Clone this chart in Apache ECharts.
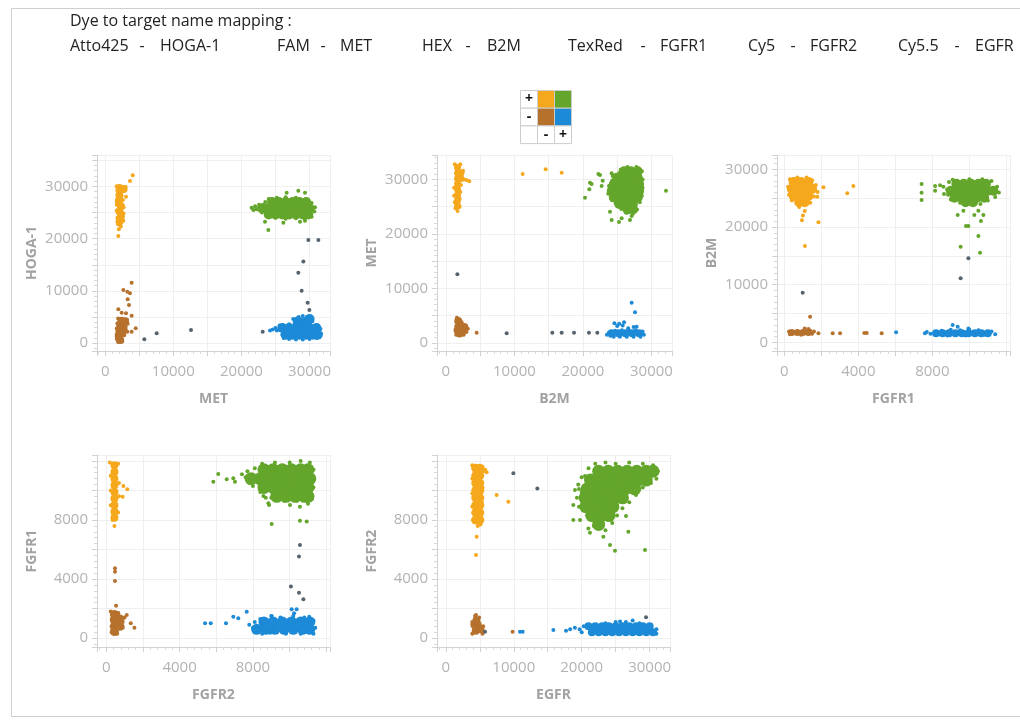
<!DOCTYPE html>
<html>
<head>
<meta charset="utf-8">
<script src="https://cdn.jsdelivr.net/npm/echarts@6/dist/echarts.min.js"></script>
<style>
  html, body { margin: 0; padding: 0; background: #ffffff; }
  #chart { width: 1020px; height: 721px; }
</style>
</head>
<body>
<div id="chart"></div>
<script>
// ---- Dye / target names -------------------------------------------------
const dyeNames    = ['Atto425', 'FAM', 'HEX', 'TexRed', 'Cy5', 'Cy5.5'];
const targetNames = ['HOGA-1', 'MET', 'B2M', 'FGFR1', 'FGFR2', 'EGFR'];

// x / y target of each 2-D plot
const xTargets = ['MET', 'B2M', 'FGFR1', 'FGFR2', 'EGFR'];
const yTargets = ['HOGA-1', 'MET', 'B2M', 'FGFR1', 'FGFR2'];

// labelled ticks of each plot
const xTickLabels = [[0, 10000, 20000, 30000], [0, 10000, 20000, 30000], [0, 4000, 8000], [0, 4000, 8000], [0, 10000, 20000, 30000]];
const yTickLabels = [[0, 10000, 20000, 30000], [0, 10000, 20000, 30000], [0, 10000, 20000, 30000], [0, 4000, 8000], [0, 4000, 8000]];

// ---- Plot 1 : MET (x) vs HOGA-1 (y) ------------------------------------
const p1OrangeCore = [[2100,29700],[2700,29500],[2100,28300],[2000,27200],[2300,26200],[2100,25200],[2300,24300],[2100,23300]];
const p1OrangeSpread = [[1700,30000],[3000,29900],[2900,29200],[1800,29100],[1800,27600],[2600,27400],[1700,26500],[2700,26000],[1700,25400],[2700,24800],[1800,24000],[2500,23600],[1900,22700],[2300,22300],[2000,21800],[4040,32110],[3640,31020],[3060,28030],[2670,23430],[1930,20500]];
const p1GreenCore = [[24500,27000],[25500,27000],[26500,27000],[27500,27000],[28500,27000],[29500,27000],
  [23000,25800],[24000,25800],[25000,25800],[26000,25800],[27000,25800],[28000,25800],[29000,25800],[30000,25800],
  [24000,24600],[25000,24600],[26000,24600],[27000,24600],[28000,24600],[29000,24600],[29800,24600]];
const p1GreenSpread = [[21500,25900],[22000,26200],[22200,25600],[22600,26500],[23000,25000],[23500,27000],[24000,27600],[25200,27800],[26500,27900],[28000,27800],[29500,27500],[30300,26800],[30800,26000],[30700,25200],[30300,24200],[29300,23800],[28000,23900],[26500,23800],[25000,24000],[23800,24300],[23300,26500],
  [26640,28790],[28350,29170],[29330,28790],[23950,21650],[23460,23240],[26150,23050],[29330,23430],[28600,23240],[21750,25470]];
const p1BrownCore = [[2400,4300],[2900,4200],[2200,3300],[2700,3100],[2100,2300],[2500,2100],[2000,1300],[2200,600]];
const p1BrownSpread = [[1900,4700],[3200,4500],[3300,3700],[1800,3800],[1700,2800],[3000,2600],[1700,1700],[2800,1500],[1700,800],[2500,300],[1900,200],
  [3890,11570],[2670,10170],[3250,9850],[3640,9530],[3300,8380],[3500,7300],[1930,6470],[2420,5830],[3890,5260],[3060,5710],[4480,2840],[3890,2200],[3250,2200]];
const p1BlueCore = [[26000,2900],[27000,2900],[28000,2900],[29000,2900],[30000,2900],[31000,2900],
  [26500,1600],[27500,1600],[28500,1600],[29500,1600],[30500,1600],[31200,1600],[28300,4200],[29300,4000],[30000,4600]];
const p1BlueSpread = [[25000,2900],[25200,2400],[25600,3400],[26000,1600],[26200,1000],[27000,800],[28000,700],[29000,700],[30000,800],[31000,1000],[31700,1800],[31600,2700],[31200,3400],[27000,3600],[27800,3900],[28400,5000],[29000,5200],[29600,5000],[30400,4200],[27600,4600],[24600,2600],[24200,2400]];
const p1Rain = [[29820,19740],[31290,19740],[29090,15600],[28350,13490],[28840,10050],[29720,7750],[29970,6350],[23120,2200],[5750,740],[7560,1880],[12600,2520]];

// ---- Plot 2 : B2M (x) vs MET (y) ---------------------------------------
const p2OrangeCore = [[1700,32200],[1700,31200],[1700,30200],[1700,29200],[1700,28200],[1700,27200],[1700,26200],[1700,25200],[2200,31200],[2200,30200]];
const p2OrangeSpread = [[1300,32800],[2100,32800],[2500,31600],[2600,30000],[3000,29900],[3400,29700],[2200,29000],[1200,28500],[2100,27700],[1200,27000],[2000,26500],[1300,25800],[2000,25000],[1400,24700],[1700,24200],
  [11200,31010],[14560,31870],[16900,31260]];
const p2GreenCore = [[26000,31500],[27000,31500],[28000,31500],
  [25000,30300],[26000,30300],[27000,30300],[28000,30300],
  [24500,29100],[25500,29100],[26500,29100],[27500,29100],[28200,29100],
  [24200,27900],[25200,27900],[26200,27900],[27200,27900],[28200,27900],
  [24500,26700],[25500,26700],[26500,26700],[27500,26700],[28000,26700],
  [25300,25500],[26300,25500],[27300,25500],[26500,24500],[27300,24500]];
const p2GreenSpread = [[25500,31800],[26500,32300],[27800,32300],[28600,31500],[28700,30000],[28700,28500],[28600,27000],[28300,25800],[27900,24500],[27300,23700],[26300,23900],[25600,24600],[24800,25600],[24200,26300],[23700,27400],[23800,28800],[24300,29800],[24800,30800],[25300,31200],
  [22250,31010],[22490,30830],[24190,31140],[24340,30650],[21030,29420],[21270,29180],[20930,28200],[22880,29790],[20300,26670],[22730,28810],[23950,24090],[24190,22560],[25650,22870],[25260,22200],[26870,22560],[27110,23300],[32120,27950]];
const p2BrownCore = [[1800,4000],[2000,3100],[2700,2900],[1700,2300],[2400,2200],[2000,1700]];
const p2BrownSpread = [[1600,4600],[2300,3800],[3200,2600],[3000,2000],[1500,1500],[2600,1500],[1500,3100],[4490,1870]];
const p2BlueCore = [[24200,1750],[25200,1750],[26200,1750],[27200,1750],[28200,1750]];
const p2BlueSpread = [[23500,1500],[23800,1900],[24000,1300],[24700,2200],[25700,2300],[26700,2300],[27700,2300],[28700,2100],[28900,1500],[28400,1100],[27400,1100],[26400,1100],[25400,1100],[24500,1100],
  [24600,3600],[25000,3100],[25300,3500],[25800,3200],[26000,3800],[26600,2700],[27400,2900],[27110,7380],[27600,5600],[27840,2970]];
const p2Rain = [[15530,1870],[16900,1870],[18700,1870],[20880,1870],[22100,1870],[8870,1750],[1670,12580]];

// ---- Plot 3 : FGFR1 (x) vs B2M (y) -------------------------------------
const p3OrangeCore = [[500,27800],[900,27800],[1300,27800],[400,26600],[800,26600],[1200,26600],[1500,26600],[500,25400],[900,25400],[1300,25400],[800,24300],[1100,24300]];
const p3OrangeSpread = [[300,28300],[700,28600],[1200,28600],[1500,28100],[1700,27300],[200,27000],[1800,26100],[1600,25300],[250,25600],[400,24600],[1400,24200],[800,23500],[1100,22800],[1000,22000],[950,21200],
  [1840,20840],[1110,16710],[2110,26890],[3400,25850],[3730,27120],[1780,25270]];
const p3GreenCore = [[9300,27500],[9700,27500],[10100,27500],[10500,27500],[10900,27500],
  [9000,26300],[9400,26300],[9800,26300],[10200,26300],[10600,26300],[11000,26300],[11300,26300],
  [9200,25100],[9600,25100],[10000,25100],[10400,25100],[10800,25100],[9800,24300],[10200,24300]];
const p3GreenSpread = [[8900,27800],[9100,28200],[10000,28300],[10700,28300],[11200,28000],[11500,27000],[11600,26000],[11400,25200],[11000,24600],[10600,24000],[9500,24200],[9000,24800],[8800,26500],[8850,25600],
  [7420,27470],[7420,25960],[7420,24690],[8150,27120],[8420,27240],[8600,27000],[8150,26310],[8630,25730],[9370,22090],[9680,22840],[10270,22090],[10490,22840],[10630,21050],[9820,20180],[9950,20180],[10760,22090],[10490,18450],[10580,15560],[9530,16600]];
const p3BrownCore = [[400,1700],[700,1700],[1000,1700],[1300,1700]];
const p3BrownSpread = [[250,1900],[300,1400],[1500,1500],[1100,2400],[1300,2300],[1400,2000],[900,1300],[1600,1900],[1390,4460],[1840,1560],[2610,1560],[3010,1560],[4320,1620],[4450,1620],[5260,1560]];
const p3BlueCore = [[8200,1600],[8550,1600],[8900,1600],[9250,1600],[9600,1600],[9950,1600],[10300,1600],[10650,1600],[11000,1600]];
const p3BlueSpread = [[7700,1800],[7900,1500],[8500,2000],[9000,2200],[9500,2100],[10000,2200],[10500,2100],[11200,1900],[11400,1400],[8800,1200],[9800,1200],[10800,1300],[9100,3000],[9370,2720],[9950,2400],[6040,1740],[7600,1600]];
const p3Rain = [[9950,14570],[9530,11100],[990,8620]];

// ---- Plot 4 : FGFR2 (x) vs FGFR1 (y) -----------------------------------
const p4OrangeCore = [[450,11700],[450,11250],[450,10800],[450,10350],[450,9900],[450,9450],[450,9000],[450,8550],[450,8150]];
const p4OrangeSpread = [[200,11900],[650,11800],[250,11000],[700,10500],[250,10000],[700,9600],[250,9000],[650,8500],[350,8000],[450,7600],[940,10300],[1150,10080],[900,9580]];
const p4GreenCore = [[8600,11400],[9100,11400],[9600,11400],[10100,11400],[10600,11400],[11000,11400],
  [7900,10800],[8400,10800],[8900,10800],[9400,10800],[9900,10800],[10400,10800],[10900,10800],[11100,10800],
  [8600,10200],[9100,10200],[9600,10200],[10100,10200],[10600,10200],[11000,10200],
  [9300,9600],[9800,9600],[10300,9600],[10800,9600],[11000,9600]];
const p4GreenSpread = [[7400,11100],[7600,10900],[7700,11300],[8100,11500],[8500,11800],[9200,11900],[10000,11900],[10600,12000],[11100,11900],[11300,11400],[11300,10200],[11200,9400],[11000,9100],[10400,9300],[9700,9300],[9000,9500],[8400,9900],[8000,10300],[8300,10500],[8700,9500],
  [6110,11110],[5840,10590],[6570,10750],[6930,10820],[7020,10590],[8840,9130],[8880,9010],[9020,7730],[10560,7950],[10930,7890],[8570,9620],[9290,9690],[10020,9010],[10560,8900],[10240,9350]];
const p4BrownCore = [[450,1600],[450,1200],[450,800],[450,450],[750,1300],[750,800]];
const p4BrownSpread = [[250,1800],[300,1300],[300,800],[300,400],[600,300],[900,1100],[900,700],[1000,1400],[650,1700],[480,4730],[480,4500],[480,3870],[540,2200],[660,1680],[1120,1570],[1340,1000],[1540,710]];
const p4BlueCore = [[8600,1100],[9100,1100],[9600,1100],[10100,1100],[10600,1100],[11100,1100],
  [8200,600],[8700,600],[9200,600],[9700,600],[10200,600],[10700,600],[11100,600]];
const p4BlueSpread = [[7800,900],[8000,700],[8100,1100],[8400,1300],[9000,1500],[9500,1400],[10200,1500],[10800,1400],[11300,1200],[11400,700],[11300,300],[10600,300],[9800,300],[9000,400],[8500,300],[8930,370],
  [7660,1790],[7200,1340],[6930,1450],[5390,1000],[5700,1000],[6530,1000],[9020,1500],[10110,1950],[10240,1680],[10380,1950],[11070,1450]];
const p4Rain = [[10560,6310],[10510,5520],[10070,3490],[10510,3080],[10750,2630]];

// ---- Plot 5 : EGFR (x) vs FGFR2 (y) ------------------------------------
const p5OrangeCore = [[4400,11500],[4400,11000],[4400,10500],[4400,10000],[4400,9500],[4400,9000],[4400,8500],[4400,8000],
  [5000,11500],[5000,11000],[5000,10500],[5000,10000],[5000,9500],[5000,9000],[5000,8500],[5000,8000]];
const p5OrangeSpread = [[3900,11700],[5400,11600],[5600,11300],[5800,11400],[3900,10800],[5400,10200],[3900,9800],[5300,9200],[3900,8900],[5200,8300],[4000,8000],[4700,7600],[5100,7700],
  [6010,11230],[7480,9690],[9200,9240],[4540,6870],[4440,5630]];
const p5GreenCore = [[22500,11300],[23900,11300],[25300,11300],[26700,11300],[28100,11300],[29500,11300],[30500,11300],
  [21300,10700],[22700,10700],[24100,10700],[25500,10700],[26900,10700],[28300,10700],[29500,10700],
  [20800,10100],[22200,10100],[23600,10100],[25000,10100],[26400,10100],[27800,10100],
  [20500,9500],[21900,9500],[23300,9500],[24700,9500],[26000,9500],
  [20600,8900],[22000,8900],[23400,8900],[24600,8900],
  [21500,8300],[22800,8300],[24000,8300],[22500,7700]];
const p5GreenSpread = [[19500,10400],[20000,10900],[21000,11500],[22000,11800],[23500,11900],[25000,11800],[27000,11900],[29000,11800],[30500,11700],[31200,11300],[31000,10800],[30200,10500],[29000,10200],[28000,9700],[27000,9200],[26000,8800],[25200,8300],[24500,7800],[23500,7300],[21800,7600],[20800,8300],[19600,8900],[19300,9500],[20000,9900],[19600,10100],
  [18770,8000],[19750,8000],[20980,7430],[21220,7140],[23190,6870],[24170,6310],[24900,5920],[26870,7210],[26520,8270],[29320,5970],[20490,10980],[19010,10030],[18770,9010]];
const p5BrownCore = [[4200,900],[4700,900],[4400,500],[5100,600],[4500,1200]];
const p5BrownSpread = [[3900,300],[3900,1100],[5400,300],[5500,800],[4900,1400],[4300,1500],[4440,1570],[9830,440]];
const p5BlueCore = [[21000,800],[22000,800],[23000,800],[24000,800],[25000,800],[26000,800],[27000,800],[28000,800],[29000,800],[30000,800],
  [21500,400],[22500,400],[23500,400],[24500,400],[25500,400],[26500,400],[27500,400],[28500,400],[29500,400],[30500,400]];
const p5BlueSpread = [[17700,500],[18300,600],[19000,700],[19700,600],[20300,800],[20000,400],[25000,1100],[26500,1100],[27500,1200],[28500,1000],[31000,600],[31000,300],[23500,1000],[25640,1120],[10920,440],[11310,440],[15830,550]];
const p5Rain = [[9940,11160],[13470,10140],[29470,1410],[5770,440]];

// ---- Drawing --------------------------------------------------------------
const ORANGE = '#f5a81c', GREEN = '#63a62b', BROWN = '#b6712d', BLUE = '#1c8ad6', RAIN = '#56626d';
const FONT = "'Open Sans', 'Noto Sans', sans-serif";

// plot frames in pixels: [left, top, width, height]
const frames = [[97,155,233,196],[437,155,235,196],[777,155,233,196],[97,455,233,192],[437,455,233,192]];
const xExtent = [[-1200,33000],[-1300,33000],[-400,12200],[-500,12200],[-1300,33000]];
const yExtent = [[-1500,36000],[-1500,34500],[-1500,32500],[-600,12400],[-600,12400]];
const xSplit = [7, 7, 6, 6, 7];
const ySplit = [7, 7, 7, 6, 6];

// each plot: clusters as [core, spread, colour, core symbol size], then the rain
const plots = [
  [[p1OrangeCore,p1OrangeSpread,ORANGE,8],[p1GreenCore,p1GreenSpread,GREEN,10],[p1BrownCore,p1BrownSpread,BROWN,8],[p1BlueCore,p1BlueSpread,BLUE,10],p1Rain],
  [[p2OrangeCore,p2OrangeSpread,ORANGE,7],[p2GreenCore,p2GreenSpread,GREEN,10],[p2BrownCore,p2BrownSpread,BROWN,8],[p2BlueCore,p2BlueSpread,BLUE,8],p2Rain],
  [[p3OrangeCore,p3OrangeSpread,ORANGE,10],[p3GreenCore,p3GreenSpread,GREEN,10],[p3BrownCore,p3BrownSpread,BROWN,7],[p3BlueCore,p3BlueSpread,BLUE,8],p3Rain],
  [[p4OrangeCore,p4OrangeSpread,ORANGE,8],[p4GreenCore,p4GreenSpread,GREEN,13],[p4BrownCore,p4BrownSpread,BROWN,9],[p4BlueCore,p4BlueSpread,BLUE,11],p4Rain],
  [[p5OrangeCore,p5OrangeSpread,ORANGE,9],[p5GreenCore,p5GreenSpread,GREEN,13],[p5BrownCore,p5BrownSpread,BROWN,8],[p5BlueCore,p5BlueSpread,BLUE,8],p5Rain]
];

function labelFormatter(list) {
  return function (v) {
    return list.some(function (l) { return Math.abs(l - v) < 1e-6; }) ? String(v) : '';
  };
}

function valueAxis(extent, split, labels, name, isY) {
  return {
    type: 'value',
    min: extent[0], max: extent[1],
    splitNumber: split,
    name: name,
    nameLocation: 'middle',
    nameGap: isY ? 58 : 41,
    nameTextStyle: { color: '#a2a2a2', fontSize: 14, fontWeight: 'bold', fontFamily: FONT },
    axisLine: { show: true, onZero: false, lineStyle: { color: '#d2d2d2', width: 1 } },
    axisTick: { show: true, length: 5, lineStyle: { color: '#d2d2d2' } },
    minorTick: { show: true, splitNumber: 5, length: 3, lineStyle: { color: '#d8d8d8' } },
    splitLine: { show: true, lineStyle: { color: '#efefef', width: 1 } },
    axisLabel: { color: '#b3b3b3', fontSize: 15, fontFamily: FONT, margin: isY ? 9 : 13, formatter: labelFormatter(labels) }
  };
}

const grids = [], xAxes = [], yAxes = [], series = [];
frames.forEach(function (f, i) {
  grids.push({ left: f[0], top: f[1], width: f[2], height: f[3], containLabel: false });
  xAxes.push(Object.assign({ gridIndex: i }, valueAxis(xExtent[i], xSplit[i], xTickLabels[i], xTargets[i], false)));
  yAxes.push(Object.assign({ gridIndex: i }, valueAxis(yExtent[i], ySplit[i], yTickLabels[i], yTargets[i], true)));
  const p = plots[i];
  for (let c = 0; c < 4; c++) {
    const cl = p[c];
    series.push({ type: 'scatter', xAxisIndex: i, yAxisIndex: i, data: cl[0], symbolSize: cl[3], silent: true, itemStyle: { color: cl[2], opacity: 1 } });
    series.push({ type: 'scatter', xAxisIndex: i, yAxisIndex: i, data: cl[1], symbolSize: 4, silent: true, itemStyle: { color: cl[2], opacity: 1 } });
  }
  series.push({ type: 'scatter', xAxisIndex: i, yAxisIndex: i, data: p[4], symbolSize: 4, silent: true, itemStyle: { color: RAIN, opacity: 1 } });
});

// header: dye to target mapping
const headerX = [[70,142,160],[277,323,340],[422,468,487],[568,643,660],[748,793,810],[898,957,975]];
const headerText = { fill: '#222222', fontSize: 16, fontFamily: FONT, verticalAlign: 'middle' };
const graphics = [
  { type: 'rect', shape: { x: 11.5, y: 8.5, width: 1030, height: 708 }, style: { fill: 'none', stroke: '#cfcfcf', lineWidth: 1 }, silent: true },
  { type: 'text', x: 70, y: 21, style: Object.assign({ text: 'Dye to target name mapping :' }, headerText), silent: true }
];
dyeNames.forEach(function (d, k) {
  graphics.push({ type: 'text', x: headerX[k][0], y: 46, style: Object.assign({ text: d }, headerText), silent: true });
  graphics.push({ type: 'text', x: headerX[k][1], y: 46, style: Object.assign({ text: '-', align: 'center' }, headerText), silent: true });
  graphics.push({ type: 'text', x: headerX[k][2], y: 46, style: Object.assign({ text: targetNames[k] }, headerText), silent: true });
});

// quadrant key: sign of (x, y) for each cluster colour
const keyCells = [['+', ORANGE, GREEN], ['-', BROWN, BLUE], ['', '-', '+']];
const keyChildren = [];
keyCells.forEach(function (row, r) {
  row.forEach(function (cell, c) {
    const isColour = cell.charAt(0) === '#';
    keyChildren.push({ type: 'rect', shape: { x: c * 17, y: r * 17.7, width: 17, height: 17.7 },
      style: { fill: isColour ? cell : '#ffffff', stroke: '#cccccc', lineWidth: 1 } });
    if (!isColour && cell) {
      keyChildren.push({ type: 'text', x: c * 17 + 8.5, y: r * 17.7 + 9,
        style: { text: cell, fill: '#111111', fontSize: 14, fontWeight: 'bold', fontFamily: FONT, align: 'center', verticalAlign: 'middle' } });
    }
  });
});
graphics.push({ type: 'group', x: 520.5, y: 90.5, children: keyChildren, silent: true });

const chart = echarts.init(document.getElementById('chart'), null, { renderer: 'canvas' });
chart.setOption({
  backgroundColor: '#ffffff',
  animation: false,
  grid: grids,
  xAxis: xAxes,
  yAxis: yAxes,
  series: series,
  graphic: graphics
});
</script>
</body>
</html>
